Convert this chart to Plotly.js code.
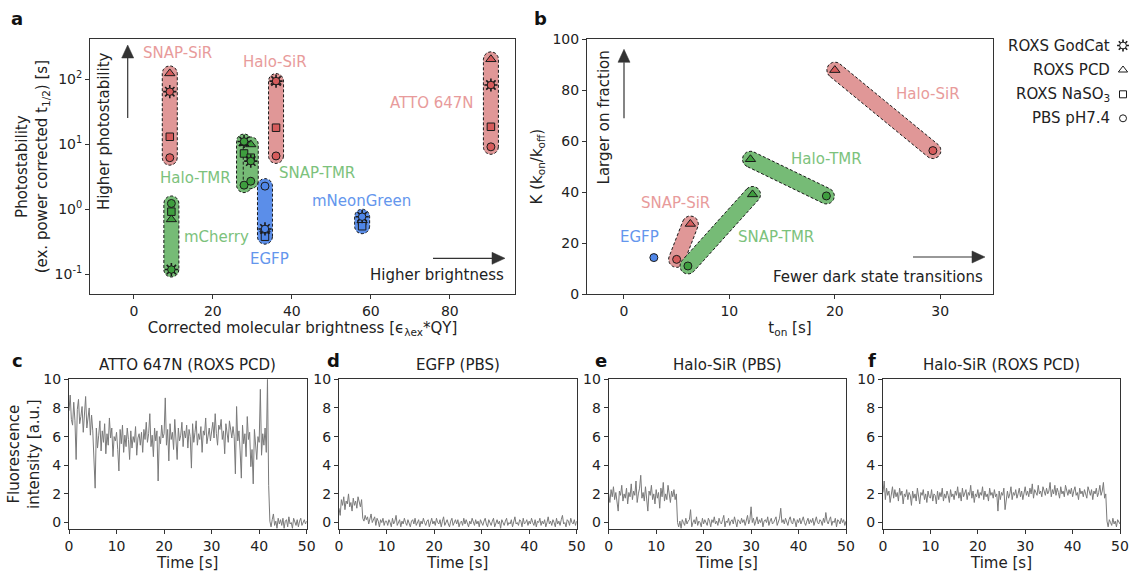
<!DOCTYPE html>
<html><head><meta charset="utf-8">
<script src="https://cdn.plot.ly/plotly-3.0.1.min.js"></script>
<style>html,body{margin:0;padding:0;background:#fff;}#chart{width:1131px;height:576px;}</style>
</head><body><div id="chart"></div>
<script>
// ===================== DATA =====================
// Panel a: photostability vs brightness
const groupsA = ['SNAP-SiR','Halo-SiR','ATTO 647N','Halo-TMR','SNAP-TMR','mCherry','EGFP','mNeonGreen'];
const familyA = ['red','red','red','green','green','green','blue','blue'];
const brightnessA = [9.1, 36.0, 90.4, 27.9, 29.6, 9.5, 33.2, 57.8];
const godcatA = [64, 93, 81, 11, 5.5, 0.119, 0.50, 0.77];
const pcdA    = [122, 90, 201, 10.3, 9.9, 0.70, 0.49, 0.68];
const naso3A  = [13, 17.9, 18.5, 7.2, 6.2, 0.92, 0.38, 0.55];
const pbsA    = [6.2, 6.6, 9.1, 2.35, 2.7, 1.23, 2.27, 0.60];

// Panel b: K vs t_on
const groupsB = ['EGFP','SNAP-SiR','SNAP-TMR','Halo-TMR','Halo-SiR'];
const familyB = ['blue','red','green','green','red'];
const tonPbsB = [2.84, 5.0, 6.07, 19.2, 29.3];
const kPbsB   = [14.3, 13.6, 11.0, 38.5, 56.3];
const tonPcdB = [null, 6.3, 12.2, 12.0, 20.0];
const kPcdB   = [null, 27.5, 39.1, 52.9, 87.9];

// Panels c-f: single-molecule intensity traces (sampled every 0.25 s)
const DT = 0.25;
const atto647nPcd = [
 7.8,8.9,7.2,6.8,8.4,7.1,4.4,7.9,8.6,6.9,7.4,8.1,6.3,7.7,8.8,6.6,7.2,8.0,6.1,7.5,
 6.4,4.5,2.4,6.6,5.2,6.1,7.1,5.0,6.4,5.6,6.9,4.8,6.2,5.4,7.3,5.9,6.6,4.6,6.0,5.7,
 6.3,5.1,3.6,6.5,5.5,6.8,4.9,6.1,5.3,6.6,5.8,4.4,6.4,5.2,6.0,5.6,6.7,4.7,5.9,6.2,
 5.4,6.3,4.9,6.5,5.8,7.0,5.6,6.2,7.6,5.3,6.1,4.6,6.6,5.7,6.4,2.9,6.0,5.5,6.8,5.9,
 6.2,8.7,5.4,6.5,4.3,6.9,5.8,6.3,5.1,7.2,6.0,4.4,6.6,5.7,6.1,7.0,5.3,6.4,5.9,6.8,
 5.2,6.5,6.0,3.8,6.9,5.6,6.3,7.1,5.4,6.2,5.8,6.7,4.9,6.4,6.1,7.3,5.5,6.0,6.6,5.7,
 6.3,7.0,5.9,7.6,6.2,5.4,6.8,6.5,7.2,5.8,6.4,4.8,6.9,6.1,5.6,7.1,6.3,5.9,6.7,6.0,
 3.4,8.1,5.7,6.4,5.0,3.1,6.8,5.5,6.2,4.6,7.4,5.8,6.3,3.9,5.1,2.7,6.5,5.3,4.4,6.0,
 5.6,9.3,4.7,6.2,5.4,6.6,4.9,10.0,2.6,0.1,-0.3,0.2,0.6,-0.2,0.1,-0.4,0.3,-0.1,0.2,-0.2,
 0.3,-0.4,0.1,0.2,-0.3,0.4,-0.1,0.0,-0.4,0.3,0.1,-0.2,0.2,-0.3,0.1,0.3,-0.2,0.0,0.2,-0.1,0.1];
const egfpPbs = [
 1.0,0.5,1.6,1.2,1.8,0.9,1.5,1.3,2.0,1.1,1.4,0.8,1.7,1.2,1.5,1.0,1.8,1.3,1.1,1.6,
 0.3,0.1,0.5,0.2,0.4,-0.1,0.3,0.6,0.0,0.2,0.4,-0.2,0.3,0.1,-0.3,0.2,0.0,0.3,-0.2,0.1,
 0.1,-0.2,0.2,0.0,-0.3,0.3,-0.1,0.1,0.5,-0.2,0.0,0.2,-0.3,0.1,-0.1,0.3,0.0,-0.2,0.2,-0.1,
 -0.3,0.1,0.2,-0.1,0.3,-0.2,0.0,0.2,-0.3,0.1,-0.1,0.3,0.0,-0.2,0.1,0.2,-0.3,0.0,0.3,-0.1,
 0.1,-0.2,0.3,0.0,-0.1,0.2,-0.3,0.1,0.4,-0.2,0.0,0.2,-0.1,-0.3,0.1,0.3,-0.2,0.0,0.2,-0.1,
 0.2,-0.3,0.0,0.1,-0.2,0.3,-0.1,0.2,0.0,-0.3,0.1,-0.1,0.3,0.0,-0.2,0.2,-0.1,0.1,-0.3,0.2,
 0.0,-0.2,0.1,0.3,-0.1,-0.3,0.2,0.0,-0.2,0.1,0.3,-0.3,0.0,0.2,-0.1,0.1,-0.4,0.2,0.0,-0.2,
 0.1,0.3,-0.2,0.0,-0.1,0.2,-0.3,0.1,0.4,-0.1,0.0,-0.2,0.2,0.1,-0.3,0.3,-0.1,0.0,0.2,-0.2,
 0.1,-0.1,0.3,0.0,-0.2,0.2,-0.3,0.1,0.0,0.3,-0.2,0.1,-0.1,0.2,-0.3,0.0,0.4,-0.1,0.1,-0.2,
 0.2,0.0,-0.3,0.3,-0.1,0.1,-0.2,0.2,0.5,-0.1,0.0,-0.3,0.2,0.1,-0.2,0.3,0.0,-0.1,0.2,-0.2,0.1];
const haloSirPbs = [
 2.0,1.4,2.3,1.8,2.5,1.6,2.1,1.2,0.8,2.2,1.9,2.6,1.5,2.0,1.7,2.4,1.3,2.1,1.8,2.7,
 1.6,2.2,1.9,2.9,1.4,2.0,2.4,3.3,1.7,2.1,1.5,2.5,1.8,0.8,2.2,1.9,2.6,1.6,2.0,1.3,
 2.3,1.7,2.1,1.0,2.4,1.8,2.8,1.5,2.0,1.6,2.6,1.9,1.4,2.2,1.8,2.3,1.6,2.0,0.0,-0.3,
 0.1,-0.4,0.2,0.0,-0.2,0.3,-0.1,0.1,0.2,0.9,-0.3,0.0,0.2,-0.1,0.4,-0.2,0.1,0.0,-0.3,0.3,
 -0.1,0.2,0.0,-0.2,0.3,0.1,-0.3,0.2,0.0,0.4,-0.1,0.1,-0.2,0.3,0.0,-0.1,0.2,0.5,-0.3,0.1,
 0.0,0.3,-0.2,0.1,0.2,-0.1,0.4,0.0,-0.3,0.2,0.1,-0.1,0.3,0.0,0.2,-0.2,0.1,0.5,-0.1,0.2,
 1.1,0.0,0.3,-0.2,0.1,0.4,-0.1,0.2,0.0,0.3,-0.3,0.1,0.2,0.0,0.4,-0.2,0.1,0.3,-0.1,0.0,
 0.2,0.4,-0.2,0.1,0.3,1.0,0.0,0.2,-0.1,0.3,0.1,-0.2,0.2,0.4,0.0,-0.1,0.3,0.1,-0.3,0.2,
 0.0,0.3,-0.1,0.2,0.4,0.0,-0.2,0.1,0.3,-0.1,0.2,0.0,0.3,-0.2,0.1,0.4,0.0,-0.1,0.2,0.1,
 -0.2,0.3,0.0,0.7,0.1,-0.1,0.2,0.4,-0.2,0.1,0.0,0.3,-0.3,0.2,0.1,-0.1,0.3,0.0,0.2,-0.2,0.1];
const haloSirPcd = [
 2.1,2.9,1.6,2.4,1.9,2.2,1.4,2.0,2.5,1.7,2.3,1.8,2.1,1.5,2.4,1.9,2.2,1.3,2.0,1.8,
 2.3,1.6,2.1,1.9,1.2,2.2,1.7,2.0,1.5,2.4,1.8,1.3,2.1,1.9,2.3,1.6,2.0,1.4,2.2,1.8,
 1.7,2.3,1.5,2.0,1.9,1.3,2.2,1.6,2.1,1.8,2.4,1.5,2.0,1.7,2.2,1.9,1.4,2.3,1.8,2.0,
 1.6,2.2,1.9,2.5,1.7,2.1,1.5,2.4,1.8,2.0,2.3,1.6,2.1,1.9,2.6,1.7,2.2,1.4,2.0,1.8,
 2.3,1.7,2.1,1.9,2.5,1.6,2.2,1.8,2.0,1.5,2.4,1.9,2.1,1.7,2.3,1.8,2.0,0.8,2.2,1.6,
 2.1,1.9,2.4,0.9,1.8,2.2,1.7,2.0,2.5,1.6,2.1,1.9,2.3,1.7,2.0,2.4,1.8,2.2,1.6,2.1,
 2.5,1.9,2.2,1.8,2.4,2.0,2.7,1.7,2.3,2.1,1.9,2.6,2.0,2.2,1.8,2.5,2.1,1.9,2.4,2.0,
 2.2,2.8,1.8,2.3,2.0,2.6,1.9,2.4,2.1,1.7,2.5,2.0,2.2,1.8,2.6,2.1,1.9,2.3,2.0,2.4,
 1.8,2.2,2.5,1.9,2.1,1.6,2.4,2.0,2.2,1.8,2.3,2.0,1.7,2.5,2.1,1.9,2.3,1.6,2.2,2.0,
 2.4,1.8,2.1,2.6,1.9,2.2,2.8,1.7,2.0,0.1,-0.3,0.2,0.0,-0.2,0.3,-0.1,0.1,-0.3,0.2,0.0,-0.1];
const traceTitles = ['ATTO 647N (ROXS PCD)','EGFP (PBS)','Halo-SiR (PBS)','Halo-SiR (ROXS PCD)'];
const legendNames = ['ROXS GodCat','ROXS PCD','ROXS NaSO<sub>3</sub>','PBS pH7.4'];

// ===================== STYLE / LAYOUT =====================
const W = 1131, H = 576;
const FONT = 'DejaVu Sans, Verdana, sans-serif';
const FAM = {
  red:   {fill:'#e09797', mark:'#d65c5c', text:'#e89b9b'},
  green: {fill:'#76bb76', mark:'#3e9e3e', text:'#7cc27c'},
  blue:  {fill:'#5b8ee9', mark:'#4f86e8', text:'#6496ed'}
};
const BOX = {
  a: {l:90, r:515, t:39.3, b:294, xr:[-11.1, 96.5], yr:[-1.30, 2.61], ylog:true},
  b: {l:587, r:993, t:39.3, b:294, xr:[-3.5, 35], yr:[0, 100]},
  c: {l:69, r:306.7, t:379.3, b:529, xr:[0,50], yr:[-0.45,10]},
  d: {l:339, r:576.7, t:379.3, b:529, xr:[0,50], yr:[-0.45,10]},
  e: {l:608.7, r:846, t:379.3, b:529, xr:[0,50], yr:[-0.45,10]},
  f: {l:883, r:1120, t:379.3, b:529, xr:[0,50], yr:[-0.45,10]}
};
const CAP_R = 7.5;

function mapper(box){
  const L = v => box.ylog ? Math.log10(v) : v;
  return {
    x2p: v => box.l + (v - box.xr[0])/(box.xr[1]-box.xr[0])*(box.r-box.l),
    y2p: v => box.b - (L(v) - box.yr[0])/(box.yr[1]-box.yr[0])*(box.b-box.t),
    p2x: p => box.xr[0] + (p - box.l)/(box.r-box.l)*(box.xr[1]-box.xr[0]),
    p2y: p => { const l = box.yr[0] + (box.b - p)/(box.b-box.t)*(box.yr[1]-box.yr[0]); return box.ylog ? Math.pow(10,l) : l; }
  };
}
// capsule (rounded bar) enclosing the segment between two data points, built in pixel space
function capsule(box, xa, ya, xb, yb, r){
  const m = mapper(box);
  const p1 = [m.x2p(xa), m.y2p(ya)], p2 = [m.x2p(xb), m.y2p(yb)];
  let a = (p1[0]===p2[0] && p1[1]===p2[1]) ? Math.PI/2 : Math.atan2(p2[1]-p1[1], p2[0]-p1[0]);
  const xs = [], ys = [], N = 16;
  for (let i=0;i<=N;i++){ const t = a - Math.PI/2 + Math.PI*i/N; xs.push(m.p2x(p2[0]+r*Math.cos(t))); ys.push(m.p2y(p2[1]+r*Math.sin(t))); }
  for (let i=0;i<=N;i++){ const t = a + Math.PI/2 + Math.PI*i/N; xs.push(m.p2x(p1[0]+r*Math.cos(t))); ys.push(m.p2y(p1[1]+r*Math.sin(t))); }
  xs.push(xs[0]); ys.push(ys[0]);
  return {xs, ys};
}
function capTrace(c, fam, xa, ya){
  return {type:'scatter', mode:'lines', x:c.xs, y:c.ys, xaxis:xa, yaxis:ya, fill:'toself',
    fillcolor:FAM[fam].fill, line:{color:'#1a1a1a', width:1, dash:'3px,2px'}, hoverinfo:'skip', showlegend:false};
}
function markTrace(x, y, colors, symbol, size, xa, ya){
  return {type:'scatter', mode:'markers', x, y, xaxis:xa, yaxis:ya, showlegend:false, hoverinfo:'skip', cliponaxis:false,
    marker:{symbol, size, color:colors, line:{color:'#1a1a1a', width:1}}};
}
function starTraces(x, y, colors, xa, ya, s){
  s = s || 1;
  return [
    {type:'scatter', mode:'markers', x, y, xaxis:xa, yaxis:ya, showlegend:false, hoverinfo:'skip', cliponaxis:false,
     marker:{symbol:'asterisk-open', size:11*s, color:'#1a1a1a', line:{color:'#1a1a1a', width:1.6}}},
    markTrace(x, y, colors, 'circle', 7.5*s, xa, ya)
  ];
}

const traces = [];
// ---- panel a capsules
groupsA.forEach((g, i) => {
  const vals = [godcatA[i], pcdA[i], naso3A[i], pbsA[i]];
  const c = capsule(BOX.a, brightnessA[i], Math.max(...vals), brightnessA[i], Math.min(...vals), CAP_R);
  traces.push(capTrace(c, familyA[i], 'x', 'y'));
});
const colA = familyA.map(f => FAM[f].mark);
traces.push(markTrace(brightnessA, pbsA, colA, 'circle', 8, 'x', 'y'));
traces.push(markTrace(brightnessA, naso3A, colA, 'square', 7.5, 'x', 'y'));
traces.push(markTrace(brightnessA, pcdA, colA, 'triangle-up', 9, 'x', 'y'));
traces.push(...starTraces(brightnessA, godcatA, colA, 'x', 'y'));

// ---- panel b capsules
groupsB.forEach((g, i) => {
  if (tonPcdB[i] === null) return;
  const c = capsule(BOX.b, tonPbsB[i], kPbsB[i], tonPcdB[i], kPcdB[i], CAP_R + 0.5);
  traces.push(capTrace(c, familyB[i], 'x2', 'y2'));
});
const colB = familyB.map(f => FAM[f].mark);
traces.push(markTrace(tonPbsB, kPbsB, colB, 'circle', 8, 'x2', 'y2'));
traces.push(markTrace(tonPcdB, kPcdB, colB, 'triangle-up', 9, 'x2', 'y2'));

// ---- traces c-f
[atto647nPcd, egfpPbs, haloSirPbs, haloSirPcd].forEach((vals, k) => {
  traces.push({type:'scatter', mode:'lines', x: vals.map((_, i) => i*DT), y: vals,
    xaxis:'x'+(k+3), yaxis:'y'+(k+3), line:{color:'#7a7a7a', width:1}, hoverinfo:'skip', showlegend:false});
});

// ---- custom legend (pixel overlay axis)
const LEG = {xMark:1123, xText:1112, rows:[45.5, 70, 94.3, 118.3]};
const legSyms = ['star','triangle-up','square','circle'];
legSyms.forEach((s, i) => {
  const y = [LEG.rows[i]], x = [LEG.xMark];
  if (s === 'star') traces.push(...starTraces(x, y, ['#ffffff'], 'x7', 'y7', 0.9));
  else traces.push(markTrace(x, y, ['#ffffff'], s, s==='triangle-up'?8:7, 'x7', 'y7'));
});

function dom(b){ return {x:[b.l/W, b.r/W], y:[1-b.b/H, 1-b.t/H]}; }
function ax(extra){
  return Object.assign({showline:true, mirror:true, linecolor:'#333', linewidth:1, ticks:'outside', ticklen:4,
    tickwidth:1, tickcolor:'#333', showgrid:false, zeroline:false, fixedrange:true,
    tickfont:{family:FONT, size:14, color:'#222'}}, extra);
}
const TF = {family:FONT, size:15, color:'#222'};
const layout = {
  width:W, height:H, margin:{l:0,r:0,t:0,b:0}, paper_bgcolor:'#fff', plot_bgcolor:'rgba(0,0,0,0)',
  showlegend:false, hovermode:false, font:{family:FONT, size:14, color:'#222'},
  xaxis: ax({domain:dom(BOX.a).x, range:BOX.a.xr, anchor:'y', tickvals:[0,20,40,60,80],
    title:{text:'Corrected molecular brightness [ϵ<sub>λex</sub>*QY]', font:TF, standoff:4}}),
  yaxis: ax({domain:dom(BOX.a).y, range:BOX.a.yr, type:'log', anchor:'x', tickvals:[0.1,1,10,100],
    ticktext:['10<sup>-1</sup>','10<sup>0</sup>','10<sup>1</sup>','10<sup>2</sup>'],
    title:{text:'Photostability<br>(ex. power corrected t<sub>1/2</sub>) [s]', font:TF, standoff:3}}),
  xaxis2: ax({domain:dom(BOX.b).x, range:BOX.b.xr, anchor:'y2', tickvals:[0,10,20,30],
    title:{text:'t<sub>on</sub> [s]', font:TF, standoff:4}}),
  yaxis2: ax({domain:dom(BOX.b).y, range:BOX.b.yr, anchor:'x2', tickvals:[0,20,40,60,80,100],
    title:{text:'K (k<sub>on</sub>/k<sub>off</sub>)', font:TF, standoff:6}}),
  xaxis7:{domain:[0,1], range:[0,W], anchor:'y7', visible:false, fixedrange:true},
  yaxis7:{domain:[0,1], range:[H,0], anchor:'x7', visible:false, fixedrange:true},
  annotations:[], shapes:[]
};
['c','d','e','f'].forEach((p, k) => {
  const n = k+3, b = BOX[p];
  layout['xaxis'+n] = ax({domain:dom(b).x, range:b.xr, anchor:'y'+n, tickvals:[0,10,20,30,40,50],
    title:{text:'Time [s]', font:TF, standoff:4}});
  const ya = ax({domain:dom(b).y, range:b.yr, anchor:'x'+n, tickvals:[0,2,4,6,8,10]});
  if (k === 0) ya.title = {text:'Fluorescence<br>intensity [a.u.]', font:TF, standoff:0};
  layout['yaxis'+n] = ya;
  layout.annotations.push({xref:'paper', yref:'paper', x:(b.l+b.r)/2/W, y:1-365/H, text:traceTitles[k],
    showarrow:false, xanchor:'center', yanchor:'middle', font:TF});
});

const A = layout.annotations;
// panel letters
[['a',17,18],['b',540,18],['c',17,360],['d',333,360],['e',601,360],['f',872,360]].forEach(([t,x,y]) =>
  A.push({xref:'paper', yref:'paper', x:x/W, y:1-y/H, text:'<b>'+t+'</b>', showarrow:false,
    xanchor:'center', yanchor:'middle', font:{family:FONT, size:18, color:'#111'}}));

// group labels (positions in data units)
const labelPosA = [[11.0,253],[35.7,180],[75.4,42.4],[15.7,3.05],[46.4,3.56],[20.8,0.38],[34.3,0.17],[57.6,1.34]];
groupsA.forEach((g, i) => A.push({xref:'x', yref:'y', x:labelPosA[i][0], y:Math.log10(labelPosA[i][1]), text:g,
  showarrow:false, font:{family:FONT, size:15, color:FAM[familyA[i]].text}}));
const labelPosB = [[1.5,22.3],[4.9,35.6],[14.4,22.3],[19.2,52.9],[28.8,78.5]];
groupsB.forEach((g, i) => A.push({xref:'x2', yref:'y2', x:labelPosB[i][0], y:labelPosB[i][1], text:g,
  showarrow:false, font:{family:FONT, size:15, color:FAM[familyB[i]].text}}));

// direction hints: arrows drawn as shapes in figure-pixel space (overlay axis x7/y7)
function arrowShapes(x0, y0, x1, y1){
  const L = Math.hypot(x1-x0, y1-y0), ux = (x1-x0)/L, uy = (y1-y0)/L, hl = 13, hw = 6;
  const bx = x1 - ux*hl, by = y1 - uy*hl, px = -uy, py = ux;
  return [
    {type:'line', xref:'x7', yref:'y7', x0, y0, x1:bx, y1:by, line:{color:'#333', width:1.2}},
    {type:'path', xref:'x7', yref:'y7', fillcolor:'#333', line:{color:'#333', width:0.5},
     path:`M${x1},${y1} L${bx+px*hw},${by+py*hw} L${bx-px*hw},${by-py*hw} Z`}
  ];
}
layout.shapes.push(...arrowShapes(127.7, 118, 127.7, 45));
layout.shapes.push(...arrowShapes(433, 258.3, 505, 258.3));
layout.shapes.push(...arrowShapes(624, 118.3, 624, 49.3));
layout.shapes.push(...arrowShapes(913, 257, 985, 257));
A.push({xref:'x', yref:'y', x:-7.5, y:1.204, text:'Higher photostability', textangle:-90, showarrow:false, font:TF});
A.push({xref:'x', yref:'y', x:94.2, y:-1.011, text:'Higher brightness', xanchor:'right', showarrow:false, font:TF});
A.push({xref:'x2', yref:'y2', x:-1.87, y:69.4, text:'Larger on fraction', textangle:-90, showarrow:false, font:TF});
A.push({xref:'x2', yref:'y2', x:34.2, y:6.7, text:'Fewer dark state transitions', xanchor:'right', showarrow:false, font:TF});

// legend texts
legendNames.forEach((t, i) => A.push({xref:'paper', yref:'paper', x:LEG.xText/W, y:1-LEG.rows[i]/H, text:t,
  xanchor:'right', yanchor:'middle', showarrow:false, font:TF}));

Plotly.newPlot('chart', traces, layout, {displayModeBar:false, staticPlot:true});
</script></body></html>
